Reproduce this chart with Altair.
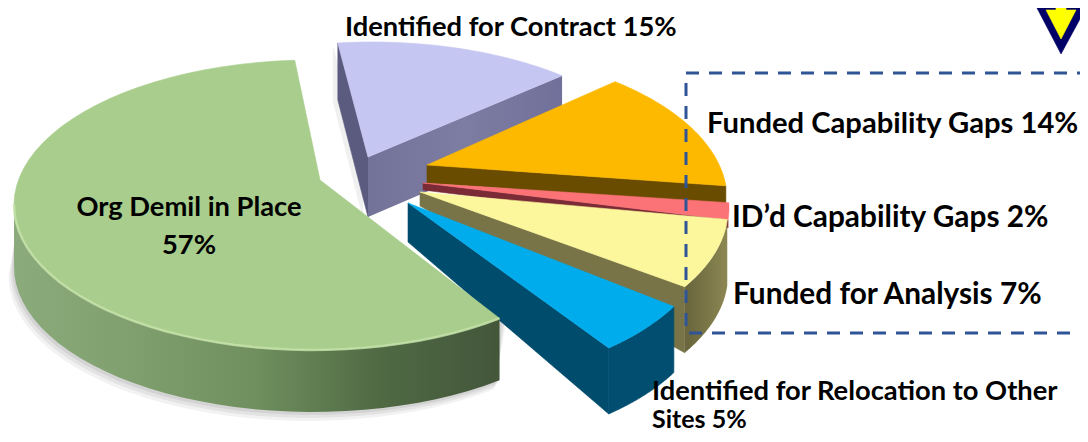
import math
import altair as alt
import pandas as pd

# ---- chart values ----
categories = ["Org Demil in Place", "Identified for Contract", "Funded Capability Gaps",
              "ID\u2019d Capability Gaps", "Funded for Analysis", "Identified for Relocation to Other Sites"]
shares = [57, 15, 14, 2, 7, 5]

W, H = 1072, 426
xs = alt.Scale(domain=[8, 8 + W], nice=False, zero=False)
ys = alt.Scale(domain=[8 + H, 8], nice=False, zero=False)


def arc(c, t0, t1, n=60):
    cx, cy, a, b = c
    return [(cx + a * math.cos(math.radians(t0 + (t1 - t0) * i / n)),
             cy + b * math.sin(math.radians(t0 + (t1 - t0) * i / n))) for i in range(n + 1)]


def down(pts, d):
    return [(x, y + d) for x, y in pts]


def frame(pts):
    return pd.DataFrame({"x": [p[0] for p in pts], "y": [p[1] for p in pts], "i": range(len(pts))})


def poly(pts, fill, opacity=1.0):
    pts = list(pts) + [pts[0]]
    solid = isinstance(fill, str)
    return alt.Chart(frame(pts)).mark_line(
        fill=fill, fillOpacity=opacity, strokeWidth=0.6 if solid and opacity == 1 else 0,
        stroke=fill if solid else "#00000000").encode(
        x=alt.X("x:Q", scale=xs, axis=None), y=alt.Y("y:Q", scale=ys, axis=None), order="i:Q")


def shade(*stops):
    n = len(stops) - 1
    return alt.LinearGradient(gradient="linear", x1=0, x2=1, y1=0, y2=0,
                              stops=[alt.GradientStop(color=c, offset=i / n) for i, c in enumerate(stops)])


def path(pts, color, width, opacity=1.0, dash=None):
    kw = dict(color=color, strokeWidth=width, opacity=opacity)
    if dash:
        kw["strokeDash"] = dash
    return alt.Chart(frame(pts)).mark_line(**kw).encode(
        x=alt.X("x:Q", scale=xs, axis=None), y=alt.Y("y:Q", scale=ys, axis=None), order="i:Q")


layers = []

# Org Demil geometry first (its shadow sits under everything)
G = (313, 205, 299, 145)
g_rim = arc(G, 266.5, 51.4)
g_side = g_rim[24:]
for s, op in ((9, .05), (6, .06), (3, .07)):
    layers.append(poly([(x - s * .6, y + 62 + s) for x, y in g_side] +
                       [(x + s, y - s) for x, y in reversed(g_side)], "#000000", op))

# Identified for Contract
L = (372, 193, 302, 151)
l_apex = (368, 157)
l_rim = arc(L, -96.5, -51)
layers += [
    poly([(x - 5, y + 2) for x, y in [l_rim[0], l_apex, down([l_apex], 60)[0], down([l_rim[0]], 57)[0]]], "#000000", .06),
    poly([l_rim[0], l_apex, down([l_apex], 60)[0], down([l_rim[0]], 57)[0]], "#5b5b80"),
    poly([l_apex, l_rim[-1], down([l_rim[-1]], 58)[0], down([l_apex], 60)[0]], shade("#73739a", "#7d7da3", "#70709a")),
    poly([l_apex] + l_rim, "#c6c6f2"),
]

# Funded Capability Gaps
O = (425, 199, 302, 151)
o_apex = (427, 165)
o_rim = arc(O, -51, -5)
layers += [
    poly([o_apex, o_rim[-1], down([o_rim[-1]], 18)[0], down([o_apex], 18)[0]], "#6a4c00"),
    poly([o_apex] + o_rim, "#fdb900"),
]

# ID'd Capability Gaps
R = (425, 208, 304, 151)
r_apex = (423, 183)
r_rim = arc(R, -2, 4.5)
layers += [
    poly([r_apex, r_rim[-1], down([r_rim[-1]], 8)[0], down([r_apex], 7)[0]], "#7b2b36"),
    poly([r_apex] + r_rim, "#fb7277"),
]

# Funded for Analysis
Y = (425, 209, 303, 151)
y_apex = (420, 192)
y_rim = arc(Y, 4, 31)
layers += [
    poly(y_rim + down(list(reversed(y_rim)), 66), shade("#68643c", "#8c8752")),
    poly([y_apex, y_rim[-1], down([y_rim[-1]], 66)[0], down([y_apex], 14)[0]], "#787448"),
    poly([y_apex] + y_rim, "#fcf79c"),
]

# Identified for Relocation
B = (408, 238, 300, 148)
b_apex = (408, 203)
b_rim = arc(B, 27.6, 48)
layers += [
    poly([b_apex, b_rim[-1], down([b_rim[-1]], 66)[0], down([b_apex], 39)[0]], "#004c6d"),
    poly(b_rim + down(list(reversed(b_rim)), 66), "#014e70"),
    poly([b_apex] + b_rim, "#01acec"),
]

# Org Demil in Place
g_apex = (320, 180)
layers += [
    poly(g_side + down(list(reversed(g_side)), 62),
         shade("#8bab7c", "#7f9f6e", "#6f8f5e", "#506a44", "#43563a")),
    poly([g_apex] + g_rim, "#a8cd8c"),
    path(g_side, "#c7e3ab", 2.5, .8),
]

# Dashed box
box_x = [1090, 686, 686, 1090]
box_y = [73, 73, 333, 333]
layers.append(path(list(zip(box_x, box_y)), "#2f5597", 3, 1, [13, 10]))

# Arrow
layers += [
    poly([(1037, 8), (1061, 54), (1086, 8)], "#000066"),
    poly([(1056, 8), (1056, 10), (1046, 10), (1061, 39), (1076, 10), (1066, 10), (1066, 8)], "#ffff00"),
]

# Labels
labels = pd.DataFrame([
    {"t": f"{categories[1]} {shares[1]}%", "x": 345, "y": 28, "a": "left", "s": 27.3},
    {"t": categories[0], "x": 189, "y": 208, "a": "center", "s": 27.3},
    {"t": f"{shares[0]}%", "x": 189, "y": 246, "a": "center", "s": 27.3},
    {"t": f"{categories[2]} {shares[2]}%", "x": 707, "y": 124, "a": "left", "s": 29.2},
    {"t": f"{categories[3]} {shares[3]}%", "x": 732, "y": 218, "a": "left", "s": 29.8},
    {"t": f"{categories[4]} {shares[4]}%", "x": 733, "y": 295, "a": "left", "s": 29.8},
    {"t": "Identified for Relocation to Other", "x": 652, "y": 392, "a": "left", "s": 27.3},
    {"t": f"Sites {shares[5]}%", "x": 652, "y": 420, "a": "left", "s": 25},
])
for (a, s), part in labels.groupby(["a", "s"]):
    layers.append(alt.Chart(part).mark_text(
        font="Lato", fontWeight="bold", fontSize=s, color="#000000", align=a, baseline="middle").encode(
        x=alt.X("x:Q", scale=xs, axis=None), y=alt.Y("y:Q", scale=ys, axis=None), text="t:N"))

chart = alt.layer(*layers).properties(
    width=W, height=H, padding=0, autosize=alt.AutoSizeParams(type="none"), background="#ffffff"
).configure_view(stroke=None)

chart.save("out.html", embed_options={"renderer": "svg", "actions": False})
